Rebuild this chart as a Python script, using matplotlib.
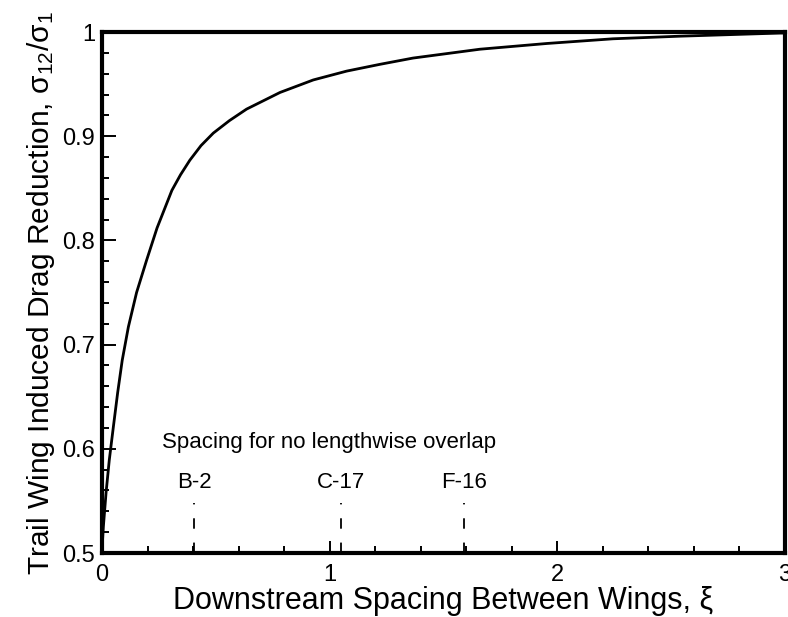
import matplotlib.pyplot as plt
import numpy as np
from matplotlib.ticker import MultipleLocator

plt.rcParams['font.family'] = ['Liberation Sans', 'DejaVu Sans']
plt.rcParams['mathtext.fontset'] = 'custom'
plt.rcParams['mathtext.rm'] = 'Liberation Sans'
plt.rcParams['mathtext.it'] = 'Liberation Sans:italic'
plt.rcParams['lines.scale_dashes'] = False

# curve
xi = [0.0, 0.006, 0.018, 0.032, 0.050, 0.069, 0.089, 0.116, 0.152, 0.196,
      0.242, 0.307, 0.345, 0.386, 0.435, 0.489, 0.56, 0.635, 0.782, 0.928,
      1.075, 1.221, 1.366, 1.660, 1.954, 2.244, 2.538, 2.978, 3.0]
ratio = [0.503, 0.525, 0.558, 0.589, 0.621, 0.654, 0.685, 0.717, 0.750, 0.781,
         0.812, 0.848, 0.863, 0.877, 0.891, 0.903, 0.915, 0.926, 0.942, 0.954,
         0.9625, 0.969, 0.975, 0.9835, 0.989, 0.9935, 0.996, 0.999, 0.999]

# aircraft spacings for no lengthwise overlap
aircraft = ['B-2', 'C-17', 'F-16']
spacing = [0.404, 1.048, 1.59]

fig = plt.figure(figsize=(7.88, 6.17), dpi=100)
ax = fig.add_axes([0.1294, 0.1037, 0.8668, 0.8444])

ax.plot(xi, ratio, color='black', linewidth=2.0)

for name, s in zip(aircraft, spacing):
    ax.plot([s, s], [0.5, 0.548], color='black', linewidth=1.3, dashes=(7.5, 10))
    ax.text(s, 0.568, name, ha='center', va='center', fontsize=16)

ax.text(0.262, 0.606, 'Spacing for no lengthwise overlap', ha='left', va='center', fontsize=16)

ax.set_xlim(0, 3)
ax.set_ylim(0.5, 1)
ax.xaxis.set_major_locator(MultipleLocator(1))
ax.xaxis.set_minor_locator(MultipleLocator(0.2))
ax.yaxis.set_minor_locator(MultipleLocator(0.02))
ax.set_yticks([0.5, 0.6, 0.7, 0.8, 0.9, 1.0])
ax.set_yticklabels(['0.5', '0.6', '0.7', '0.8', '0.9', '1'])

ax.tick_params(which='both', direction='in', top=False, right=False, labelsize=17, width=1.4)
ax.tick_params(axis='x', which='major', length=8.5, pad=8)
ax.tick_params(axis='y', which='major', length=10, pad=5)
ax.tick_params(which='minor', length=5)
for sp in ax.spines.values():
    sp.set_linewidth(3)

ax.set_xlabel('Downstream Spacing Between Wings, ξ', fontsize=22, labelpad=0)
ax.set_ylabel('Trail Wing Induced Drag Reduction, σ$_{12}$/σ$_1$', fontsize=21.5, labelpad=4)

fig.savefig('out.png', dpi=100)
